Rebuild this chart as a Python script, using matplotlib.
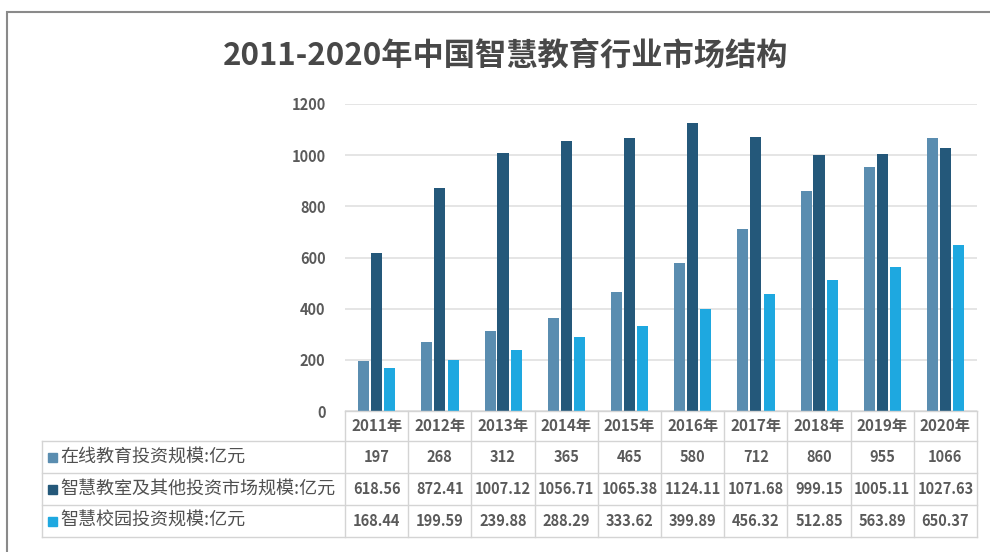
import numpy as np
import matplotlib.pyplot as plt
from matplotlib.patches import Rectangle

plt.rcParams['font.family'] = ['Noto Sans CJK SC', 'DejaVu Sans']

# 数据
years = ['2011年', '2012年', '2013年', '2014年', '2015年',
         '2016年', '2017年', '2018年', '2019年', '2020年']
series_names = ['在线教育投资规模:亿元', '智慧教室及其他投资市场规模:亿元', '智慧校园投资规模:亿元']
online = [197, 268, 312, 365, 465, 580, 712, 860, 955, 1066]
classroom = [618.56, 872.41, 1007.12, 1056.71, 1065.38, 1124.11, 1071.68, 999.15, 1005.11, 1027.63]
campus = [168.44, 199.59, 239.88, 288.29, 333.62, 399.89, 456.32, 512.85, 563.89, 650.37]
table_text = [['197', '268', '312', '365', '465', '580', '712', '860', '955', '1066'],
              ['618.56', '872.41', '1007.12', '1056.71', '1065.38', '1124.11', '1071.68', '999.15', '1005.11', '1027.63'],
              ['168.44', '199.59', '239.88', '288.29', '333.62', '399.89', '456.32', '512.85', '563.89', '650.37']]
colors = ['#5a8db0', '#24587a', '#1ea8e0']

W, H = 990, 552
fig = plt.figure(figsize=(W / 100, H / 100), dpi=100)


def fx(px):
    return px / W


def fy(py):
    return 1 - py / H


# 外框
fig.patches.append(Rectangle((fx(7), fy(600)), fx(1100), fy(12) - fy(600),
                             transform=fig.transFigure, fill=False,
                             edgecolor='#8a8a8a', linewidth=1.5))

fig.text(fx(506), fy(56), '2011-2020年中国智慧教育行业市场结构', ha='center', va='center',
         fontsize=22.5, fontweight='bold', color='#484848')

# 柱状图
left, right, top, bottom = 345, 977, 104, 411
ax = fig.add_axes([fx(left), fy(bottom), fx(right - left), fy(top) - fy(bottom)])
x = np.arange(len(years))
bw = 0.175
for off, vals, c in zip([-0.205, 0, 0.21], [online, classroom, campus], colors):
    ax.bar(x + off, vals, width=bw, color=c, zorder=3)
ax.set_xlim(-0.5, len(years) - 0.5)
ax.set_ylim(0, 1200)
ax.set_yticks(range(0, 1201, 200))
ax.set_xticks([])
ax.grid(axis='y', color='#e0e0e0', linewidth=1.2, zorder=0)
for s in ax.spines.values():
    s.set_visible(False)
ax.tick_params(axis='y', length=0, pad=14, labelsize=10.5, labelcolor='#5a5a5a')
for lab in ax.get_yticklabels():
    lab.set_fontweight('bold')

# 数据表
tab = fig.add_axes([0, 0, 1, 1], facecolor='none')
tab.set_xlim(0, W)
tab.set_ylim(H, 0)
tab.axis('off')
lc = '#d4d4d4'
col_w = (right - left) / len(years)
rows_y = [411, 441, 473, 505, 537]
label_x0 = 42
# 横线
tab.plot([left, right], [rows_y[0], rows_y[0]], color=lc, lw=1)
for yy in rows_y[1:]:
    tab.plot([label_x0, right], [yy, yy], color=lc, lw=1)
# 竖线
for i in range(len(years) + 1):
    tab.plot([left + i * col_w] * 2, [rows_y[0], rows_y[-1]], color=lc, lw=1)
tab.plot([label_x0, label_x0], [rows_y[1], rows_y[-1]], color=lc, lw=1)

for i, yr in enumerate(years):
    tab.text(left + (i + 0.5) * col_w, (rows_y[0] + rows_y[1]) / 2, yr,
             ha='center', va='center', fontsize=11, color='#5a5a5a', fontweight='bold')
for r in range(3):
    yc = (rows_y[r + 1] + rows_y[r + 2]) / 2
    tab.add_patch(Rectangle((48, yc - 4.5), 9, 9, color=colors[r]))
    tab.text(60, yc, series_names[r], ha='left', va='center', fontsize=13, color='#505050')
    for i, v in enumerate(table_text[r]):
        tab.text(left + (i + 0.5) * col_w, yc, v, ha='center', va='center',
                 fontsize=10.5, color='#5a5a5a', fontweight='bold')

fig.savefig('out.png', dpi=100)
